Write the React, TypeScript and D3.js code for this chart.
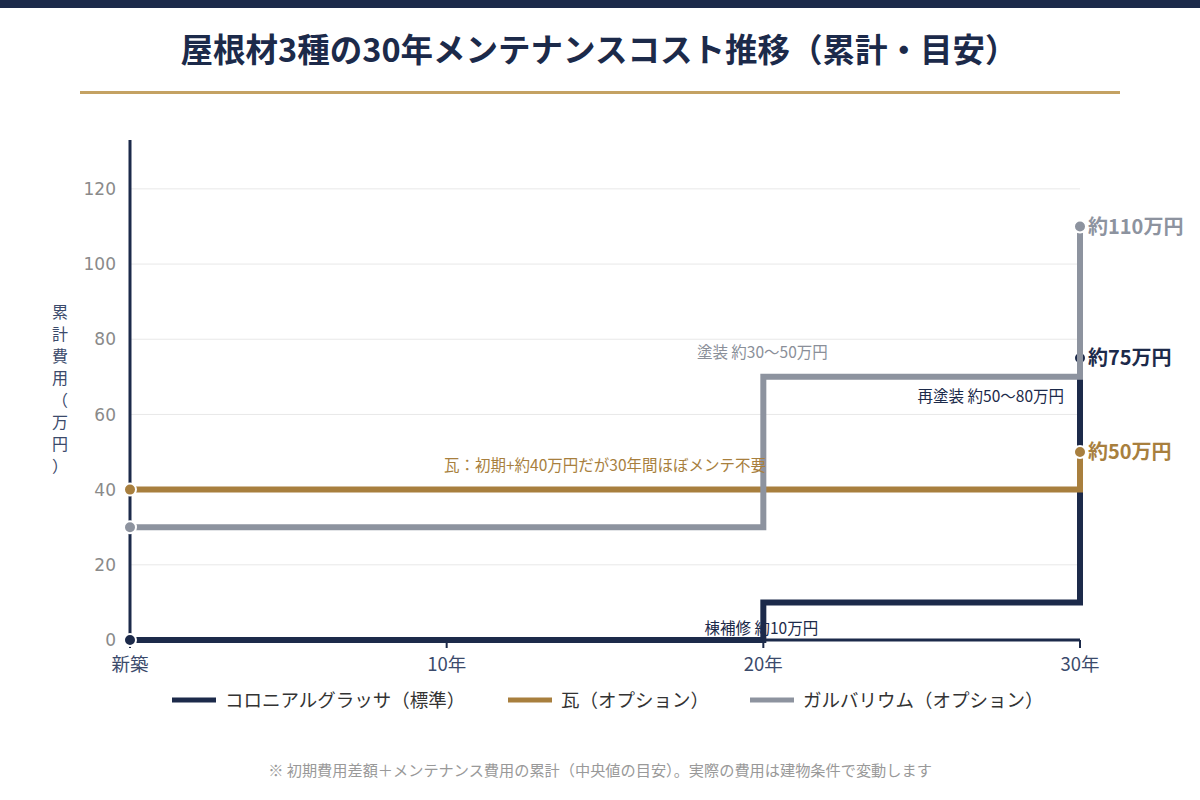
import * as d3 from "d3";

// 経過年数ごとの累計費用（万円）
const colonialYears = [0, 20, 30];
const colonialCost = [0, 10, 75];
const kawaraYears = [0, 30];
const kawaraCost = [40, 50];
const galvaYears = [0, 20, 30];
const galvaCost = [30, 70, 110];

const seriesNames = ["コロニアルグラッサ（標準）", "瓦（オプション）", "ガルバリウム（オプション）"];
const endLabels = ["約75万円", "約50万円", "約110万円"];

const xTickValues = [0, 10, 20, 30];
const xTickLabels = ["新築", "10年", "20年", "30年"];
const yTickValues = [0, 20, 40, 60, 80, 100, 120];

const NAVY = "#1c2a4a";
const GOLD = "#a87f3e";
const GRAY = "#8d939f";
const JP = "'Noto Sans CJK JP', 'Noto Sans', sans-serif";

const W = 1200;
const H = 800;
const left = 130;
const right = 1080;
const bottom = 640;
const top = 140;

export default function App() {
  const x = d3.scaleLinear().domain([0, 30]).range([left, right]);
  const y = d3.scaleLinear().domain([0, 133]).range([bottom, top]);

  const line = d3
    .line<[number, number]>()
    .x((d) => x(d[0]))
    .y((d) => y(d[1]))
    .curve(d3.curveStepAfter);

  const series = [
    { name: seriesNames[0], color: NAVY, pts: d3.zip(colonialYears, colonialCost) as [number, number][], label: endLabels[0] },
    { name: seriesNames[1], color: GOLD, pts: d3.zip(kawaraYears, kawaraCost) as [number, number][], label: endLabels[1] },
    { name: seriesNames[2], color: GRAY, pts: d3.zip(galvaYears, galvaCost) as [number, number][], label: endLabels[2] },
  ];

  const legendX = [172, 508, 750];
  const yLabel = "累計費用（万円）".split("");

  return (
    <svg width={W} height={H} viewBox={`0 0 ${W} ${H}`} style={{ position: "absolute", left: 0, top: 0, background: "#fff" }}>
      <rect x={0} y={0} width={W} height={8} fill={NAVY} />
      <text x={599} y={62} textAnchor="middle" fontFamily={JP} fontWeight={700} fontSize={32.5} fill={NAVY}>
        屋根材3種の30年メンテナンスコスト推移（累計・目安）
      </text>
      <rect x={80} y={91} width={1040} height={3} fill="#c4a263" />

      {/* grid */}
      {yTickValues.slice(1).map((v) => (
        <line key={v} x1={left} x2={right} y1={y(v)} y2={y(v)} stroke="#e8e8e8" strokeWidth={1} />
      ))}

      {/* y ticks */}
      {yTickValues.map((v) => (
        <text key={v} x={116} y={y(v)} dy="0.36em" textAnchor="end" fontFamily="DejaVu Sans" fontSize={17} fill="#8a8a8a">
          {v}
        </text>
      ))}

      {/* y axis title, stacked vertically */}
      <text fontFamily={JP} fontSize={16} fill="#3b4a6b" textAnchor="middle">
        {yLabel.map((c, i) => (
          <tspan key={i} x={60} y={318 + i * 22}>
            {c}
          </tspan>
        ))}
      </text>

      {/* axes */}
      <line x1={left} x2={left} y1={top} y2={bottom} stroke={NAVY} strokeWidth={3} />
      <line x1={left} x2={right} y1={bottom} y2={bottom} stroke={NAVY} strokeWidth={3} />
      {xTickValues.map((v, i) => (
        <g key={v}>
          <line x1={x(v)} x2={x(v)} y1={bottom} y2={bottom + 8} stroke={NAVY} strokeWidth={2} />
          <text x={x(v)} y={671} textAnchor="middle" fontFamily={JP} fontSize={18.5} fill="#3b4a6b">
            {xTickLabels[i]}
          </text>
        </g>
      ))}

      {/* series */}
      {series.map((s) => {
        const first = s.pts[0];
        const last = s.pts[s.pts.length - 1];
        return (
          <g key={s.name}>
            <path d={line(s.pts) ?? ""} fill="none" stroke={s.color} strokeWidth={6} />
            <circle cx={x(first[0])} cy={y(first[1])} r={6} fill={s.color} stroke="#fff" strokeWidth={2} />
            <circle cx={x(last[0])} cy={y(last[1])} r={6} fill={s.color} stroke="#fff" strokeWidth={2} />
            <text x={x(last[0]) + 8} y={y(last[1])} dy="0.36em" fontFamily={JP} fontWeight={700} fontSize={20} fill={s.color}>
              {s.label}
            </text>
          </g>
        );
      })}

      {/* annotations */}
      <text x={x(20) - 1} y={y(70) - 19} textAnchor="middle" fontFamily={JP} fontSize={15.5} fill="#8a8f99">
        塗装 約30〜50万円
      </text>
      <text x={x(30) - 16} y={y(70) + 25} textAnchor="end" fontFamily={JP} fontSize={15.5} fill={NAVY}>
        再塗装 約50〜80万円
      </text>
      <text x={x(15)} y={y(40) - 19} textAnchor="middle" fontFamily={JP} fontSize={15.5} fill={GOLD}>
        瓦：初期+約40万円だが30年間ほぼメンテ不要
      </text>
      <text x={x(20) - 2} y={y(0) - 6} textAnchor="middle" fontFamily={JP} fontSize={15.5} fill={NAVY}>
        棟補修 約10万円
      </text>

      {/* legend */}
      {series.map((s, i) => (
        <g key={s.name}>
          <line x1={legendX[i]} x2={legendX[i] + 44} y1={700} y2={700} stroke={s.color} strokeWidth={5} />
          <text x={legendX[i] + 53} y={700} dy="0.36em" fontFamily={JP} fontSize={18.5} fill="#333">
            {s.name}
          </text>
        </g>
      ))}

      <text x={600} y={776} textAnchor="middle" fontFamily={JP} fontSize={15.2} fill="#999">
        ※ 初期費用差額＋メンテナンス費用の累計（中央値の目安）。実際の費用は建物条件で変動します
      </text>
    </svg>
  );
}
